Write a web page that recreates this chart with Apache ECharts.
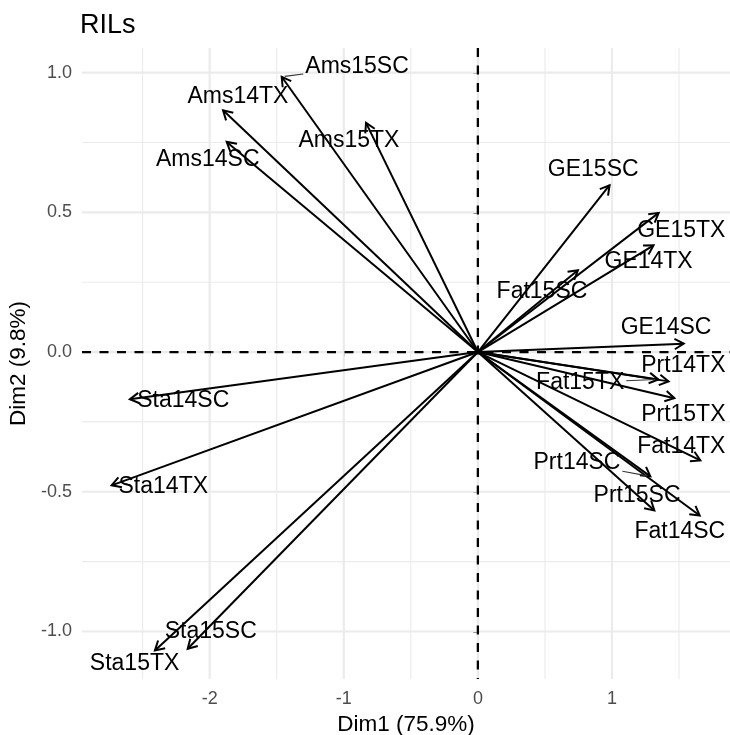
<!DOCTYPE html>
<html>
<head>
<meta charset="utf-8">
<script src="https://cdn.jsdelivr.net/npm/echarts@6/dist/echarts.min.js"></script>
<style>html,body{margin:0;padding:0;background:#fff;}#chart{width:730px;height:735px;}</style>
</head>
<body>
<div id="chart"></div>
<script>
// ---- data ----
const varNames = ['Ams15SC','Ams14TX','Ams14SC','Ams15TX','GE15SC','GE15TX','GE14TX','Fat15SC','GE14SC','Prt14TX',
  'Fat15TX','Prt15TX','Fat14TX','Prt14SC','Prt15SC','Fat14SC','Sta14SC','Sta14TX','Sta15SC','Sta15TX'];
const dim1 = [-1.463,-1.900,-1.873,-0.834,0.982,1.348,1.310,0.746,1.535,1.422,
  1.346,1.465,1.659,1.286,1.316,1.654,-2.595,-2.731,-2.164,-2.408];
const dim2 = [0.985,0.865,0.752,0.820,0.597,0.498,0.382,0.293,0.030,-0.105,
  -0.098,-0.165,-0.388,-0.445,-0.567,-0.585,-0.169,-0.477,-1.062,-1.068];
// repelled label anchors (data units) and whether a leader segment is drawn
const labelDim1 = [-0.901,-1.789,-2.014,-0.962,0.860,1.517,1.273,0.478,1.403,1.532,
  0.763,1.532,1.517,0.739,1.187,1.506,-2.197,-2.346,-1.992,-2.560];
const labelDim2 = [1.020,0.913,0.689,0.758,0.653,0.436,0.322,0.217,0.087,-0.050,
  -0.110,-0.224,-0.338,-0.397,-0.513,-0.644,-0.173,-0.483,-1.002,-1.116];
const hasLeader = [true,false,false,false,false,false,false,false,false,false,
  true,false,false,true,false,false,false,false,false,false];
const xTicks = [-2,-1,0,1];
const yTicks = [-1.0,-0.5,0.0,0.5,1.0];
const xMinor = [-2.5,-1.5,-0.5,0.5,1.5];
const yMinor = [-0.75,-0.25,0.25,0.75];
const xTitle = 'Dim1 (75.9%)';
const yTitle = 'Dim2 (9.8%)';
const chartTitle = 'RILs';

// ---- styles ----
const FONT = '"Liberation Sans", Arial, Helvetica, sans-serif';
const LABEL_SIZE = 23;
const GRID_COLOR = '#ebebeb';

const measureCtx = document.createElement('canvas').getContext('2d');
measureCtx.font = LABEL_SIZE + 'px ' + FONT;

const chart = echarts.init(document.getElementById('chart'), null, {renderer: 'canvas'});

function gridSeries(vals, dir, width) {
  return {
    type: 'custom', silent: true, z: 1,
    data: vals.map(v => [v]),
    renderItem: function (params, api) {
      const cs = params.coordSys;
      const v = api.value(0);
      let shape;
      if (dir === 'x') {
        const p = api.coord([v, 0]);
        shape = {x1: p[0], y1: cs.y, x2: p[0], y2: cs.y + cs.height};
      } else {
        const p = api.coord([0, v]);
        shape = {x1: cs.x, y1: p[1], x2: cs.x + cs.width, y2: p[1]};
      }
      return {type: 'line', shape: shape, style: {stroke: GRID_COLOR, lineWidth: width}};
    }
  };
}

function zeroSeries(dir) {
  return {
    type: 'custom', silent: true, z: 2,
    data: [[0]],
    renderItem: function (params, api) {
      const cs = params.coordSys;
      const p = api.coord([0, 0]);
      const shape = dir === 'x'
        ? {x1: p[0], y1: cs.y, x2: p[0], y2: cs.y + cs.height}
        : {x1: cs.x, y1: p[1], x2: cs.x + cs.width, y2: p[1]};
      return {type: 'line', shape: shape, style: {stroke: '#000', lineWidth: 2.3, lineDash: [9, 8.5]}};
    }
  };
}

const arrowData = dim1.map((d, i) => [d, dim2[i]]);
const labelData = labelDim1.map((d, i) => [d, labelDim2[i], dim1[i], dim2[i], i]);

const option = {
  animation: false,
  backgroundColor: '#fff',
  title: {
    text: chartTitle, left: 80, top: 12, padding: 0,
    textStyle: {fontSize: 27, fontWeight: 'normal', color: '#000', fontFamily: FONT}
  },
  grid: {left: 82, right: 0, top: 48, bottom: 56, containLabel: false, outerBoundsMode: 'none'},
  xAxis: {
    type: 'value', min: -2.952, max: 1.88,
    name: xTitle, nameLocation: 'middle', nameGap: 31,
    nameTextStyle: {fontSize: 22.5, color: '#000', fontFamily: FONT},
    axisLine: {show: false},
    axisTick: {show: true, length: 4.5, customValues: xTicks, lineStyle: {color: '#333', width: 2}},
    axisLabel: {customValues: xTicks, color: '#4d4d4d', fontSize: 18, fontFamily: FONT, margin: 11,
      formatter: v => String(v)},
    splitLine: {show: false}
  },
  yAxis: {
    type: 'value', min: -1.17, max: 1.088,
    name: yTitle, nameLocation: 'middle', nameGap: 45, nameRotate: 90,
    nameTextStyle: {fontSize: 22.5, color: '#000', fontFamily: FONT},
    axisLine: {show: false},
    axisTick: {show: true, length: 4.5, customValues: yTicks, lineStyle: {color: '#333', width: 2}},
    axisLabel: {customValues: yTicks, color: '#4d4d4d', fontSize: 18, fontFamily: FONT, margin: 10,
      formatter: v => Number(v).toFixed(1)},
    splitLine: {show: false}
  },
  series: [
    gridSeries(xMinor, 'x', 1.1),
    gridSeries(yMinor, 'y', 1.1),
    gridSeries(xTicks, 'x', 2.2),
    gridSeries(yTicks, 'y', 2.2),
    zeroSeries('x'),
    zeroSeries('y'),
    {
      type: 'custom', silent: true, z: 3,
      data: arrowData,
      renderItem: function (params, api) {
        const o = api.coord([0, 0]);
        const t = api.coord([api.value(0), api.value(1)]);
        const ang = Math.atan2(t[1] - o[1], t[0] - o[0]);
        const L = 10.5, a = Math.PI / 6;
        const b1 = [t[0] - L * Math.cos(ang - a), t[1] - L * Math.sin(ang - a)];
        const b2 = [t[0] - L * Math.cos(ang + a), t[1] - L * Math.sin(ang + a)];
        return {
          type: 'group',
          children: [
            {type: 'line', shape: {x1: o[0], y1: o[1], x2: t[0], y2: t[1]},
              style: {stroke: '#000', lineWidth: 2}},
            {type: 'polyline', shape: {points: [b1, t, b2]},
              style: {stroke: '#000', lineWidth: 2, fill: null, lineJoin: 'miter'}}
          ]
        };
      }
    },
    {
      type: 'custom', silent: true, z: 4,
      data: labelData,
      renderItem: function (params, api) {
        const idx = api.value(4);
        const name = varNames[idx];
        const c = api.coord([api.value(0), api.value(1)]);
        const children = [];
        if (hasLeader[idx]) {
          const t = api.coord([api.value(2), api.value(3)]);
          const hw = measureCtx.measureText(name).width / 2 + 2;
          const hh = LABEL_SIZE * 0.38 + 2;
          const dx = t[0] - c[0], dy = t[1] - c[1];
          const s = Math.min(dx !== 0 ? hw / Math.abs(dx) : Infinity, dy !== 0 ? hh / Math.abs(dy) : Infinity);
          const start = [c[0] + dx * s, c[1] + dy * s];
          const len = Math.hypot(dx, dy);
          const end = [t[0] - dx / len * 3, t[1] - dy / len * 3];
          children.push({type: 'line', shape: {x1: start[0], y1: start[1], x2: end[0], y2: end[1]},
            style: {stroke: '#333', lineWidth: 1.1}});
        }
        children.push({
          type: 'text', x: c[0], y: c[1],
          style: {text: name, fill: '#000', fontSize: LABEL_SIZE, fontFamily: FONT,
            align: 'center', verticalAlign: 'middle'}
        });
        return {type: 'group', children: children};
      }
    }
  ]
};
chart.setOption(option);
</script>
</body>
</html>
